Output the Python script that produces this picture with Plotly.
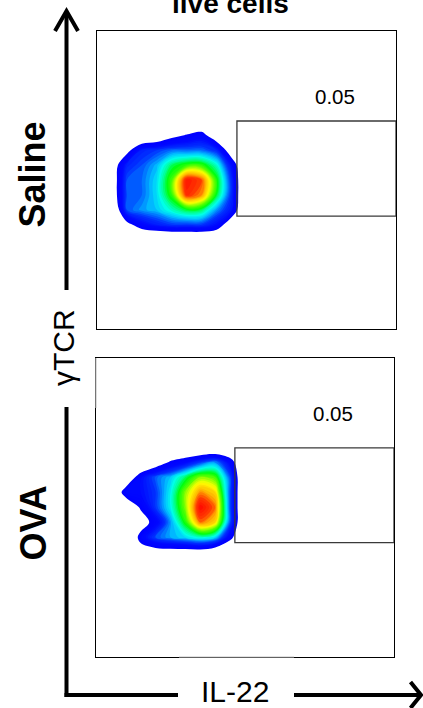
import plotly.graph_objects as go

# ---------------- data ----------------
panel_names = ["Saline", "OVA"]
gate_pct = ["0.05", "0.05"]
# gate rectangles in panel units (0-100 on both axes): x0, x1, y0, y1
gate_saline = [46.8, 100, 37.9, 69.8]
gate_ova = [46.6, 100, 38.2, 69.8]
label_pos_saline = [79.6, 78.0]
label_pos_ova = [79.5, 81.3]

grid_x = [0, 5, 10, 15, 20, 25, 30, 35, 40, 45, 50]
grid_y_top_down = [75, 70, 65, 60, 55, 50, 45, 40, 35, 30, 25]

# relative cell density (rows top -> bottom)
density_saline = [
    [0, 0, 0, 0, 0, 0, 0, 0, 0, 0, 0],
    [0, 0, 0, 0, 0, 0, 0, 0, 0, 0, 0],
    [0, 0, 0, 0, 0.05, 0.15, 0.21, 0.26, 0.08, 0, 0],
    [0, 0, 0.15, 0.35, 0.38, 0.42, 0.42, 0.42, 0.36, 0.1, 0],
    [0, 0.1, 0.35, 0.4, 0.47, 0.6, 0.66, 0.66, 0.55, 0.3, 0],
    [0, 0.1, 0.4, 0.42, 0.5, 0.68, 0.98, 0.92, 0.65, 0.36, 0],
    [0, 0.1, 0.4, 0.42, 0.5, 0.66, 0.95, 0.88, 0.62, 0.36, 0],
    [0, 0.02, 0.4, 0.45, 0.48, 0.55, 0.62, 0.6, 0.45, 0.32, 0],
    [0, 0, 0.15, 0.28, 0.34, 0.38, 0.38, 0.38, 0.3, 0.08, 0],
    [0, 0, 0, 0, 0, 0, 0, 0, 0, 0, 0],
    [0, 0, 0, 0, 0, 0, 0, 0, 0, 0, 0],
]
density_ova = [
    [0, 0, 0, 0, 0, 0, 0, 0, 0, 0, 0],
    [0, 0, 0, 0, 0, 0, 0, 0, 0, 0, 0],
    [0, 0, 0, 0, 0.1, 0.22, 0.29, 0.385, 0.45, 0.28, 0],
    [0, 0, 0.05, 0.29, 0.41, 0.48, 0.6, 0.72, 0.68, 0.4, 0],
    [0, 0, 0.28, 0.3, 0.38, 0.52, 0.72, 0.88, 0.82, 0.4, 0],
    [0, 0, 0.05, 0.22, 0.38, 0.52, 0.72, 1.0, 0.9, 0.4, 0],
    [0, 0, 0, 0.12, 0.26, 0.45, 0.65, 0.9, 0.82, 0.4, 0],
    [0, 0, 0, 0.25, 0.4, 0.46, 0.5, 0.55, 0.5, 0.25, 0],
    [0, 0, 0, 0.12, 0.12, 0.12, 0.12, 0.12, 0.06, 0, 0],
    [0, 0, 0, 0, 0, 0, 0, 0, 0, 0, 0],
    [0, 0, 0, 0, 0, 0, 0, 0, 0, 0, 0],
]

title_text = "live cells"
x_label = "IL-22"
y_label = "γTCR"

# ---------------- figure ----------------
W, H = 423, 708


def px(x):
    return x / W


def py(y):
    return 1 - y / H


C_START, C_END, C_SIZE = 0.2, 1.0, 0.02
# plotly maps the colorscale onto [start - size/2, end + size/2] for filled contours
lo, hi = C_START - C_SIZE / 2, C_END + C_SIZE / 2


def f(v):
    return max(0.0, min(1.0, (v - lo) / (hi - lo)))


color_stops = [(0.2, "#0000ff"), (0.3, "#0008ff"), (0.38, "#0030ff"), (0.43, "#0078ff"),
               (0.48, "#00c8ff"), (0.53, "#00ffe8"), (0.58, "#00ff90"), (0.63, "#00ff10"),
               (0.7, "#60ff00"), (0.78, "#ffff00"), (0.86, "#ffb000"), (0.93, "#ff3800"),
               (1.01, "#ff0000")]
jet = [[0.0, "#ffffff"], [f(0.2) - 0.001, "#ffffff"]] + [[f(v), c] for v, c in color_stops]

grid_y = list(reversed(grid_y_top_down))
fig = go.Figure()
for dens, xa, ya in [(density_saline, "x", "y"), (density_ova, "x2", "y2")]:
    fig.add_trace(go.Contour(
        x=grid_x, y=grid_y, z=list(reversed(dens)),
        xaxis=xa, yaxis=ya,
        colorscale=jet,
        contours=dict(start=C_START, end=C_END, size=C_SIZE, coloring="fill", showlines=False),
        line=dict(width=0, smoothing=1.0),
        showscale=False, hoverinfo="skip",
    ))

axis_common = dict(range=[0, 100], showgrid=False, zeroline=False, showticklabels=False,
                   ticks="", showline=True, linecolor="black", linewidth=1, mirror=True,
                   fixedrange=True)
fig.update_layout(
    width=W, height=H, margin=dict(l=0, r=0, t=0, b=0),
    paper_bgcolor="white", plot_bgcolor="white", showlegend=False,
    xaxis=dict(domain=[px(97), px(396)], anchor="y", **axis_common),
    yaxis=dict(domain=[py(329), py(31)], anchor="x", **axis_common),
    xaxis2=dict(domain=[px(96), px(394)], anchor="y2", **axis_common),
    yaxis2=dict(domain=[py(657), py(357.5)], anchor="x2", **axis_common),
    font=dict(family="Liberation Sans", color="black"),
)

shapes = []
for g, xr, yr in [(gate_saline, "x", "y"), (gate_ova, "x2", "y2")]:
    shapes.append(dict(type="rect", xref=xr, yref=yr, x0=g[0], x1=g[1], y0=g[2], y1=g[3],
                       line=dict(color="#3a3a3a", width=1.3), fillcolor="rgba(0,0,0,0)"))

# light segments where label backgrounds overlap the panel frame
faint = dict(color="#c4c4c4", width=1.2)
shapes.append(dict(type="line", xref="paper", yref="paper", x0=px(179), x1=px(294),
                   y0=py(657), y1=py(657), line=faint))
shapes.append(dict(type="line", xref="paper", yref="paper", x0=px(96), x1=px(96),
                   y0=py(358), y1=py(408), line=faint))

arrow = dict(color="black", width=4)
# vertical axis arrow (gap for the yTCR label)
shapes.append(dict(type="line", xref="paper", yref="paper", x0=px(66.5), x1=px(66.5),
                   y0=py(12), y1=py(290), line=arrow))
shapes.append(dict(type="line", xref="paper", yref="paper", x0=px(66.5), x1=px(66.5),
                   y0=py(407), y1=py(697), line=arrow))
# horizontal axis arrow (gap for the IL-22 label)
shapes.append(dict(type="line", xref="paper", yref="paper", x0=px(64.5), x1=px(178),
                   y0=py(695), y1=py(695), line=arrow))
shapes.append(dict(type="line", xref="paper", yref="paper", x0=px(294), x1=px(420),
                   y0=py(695), y1=py(695), line=arrow))
# arrow heads
shapes.append(dict(type="path", xref="paper", yref="paper",
                   path=f"M {px(55)},{py(31)} L {px(66.5)},{py(11)} L {px(78)},{py(31)}",
                   line=arrow))
shapes.append(dict(type="path", xref="paper", yref="paper",
                   path=f"M {px(410.5)},{py(682)} L {px(421)},{py(695)} L {px(410.5)},{py(708)}",
                   line=arrow))

ctr = dict(showarrow=False, xanchor="center", yanchor="middle")
annotations = []
for pos, pct, xr, yr in [(label_pos_saline, gate_pct[0], "x", "y"), (label_pos_ova, gate_pct[1], "x2", "y2")]:
    annotations.append(dict(x=pos[0], y=pos[1], xref=xr, yref=yr, text=pct,
                            font=dict(size=20.5, family="Liberation Sans", color="black"), **ctr))
annotations.append(dict(x=px(230), y=py(21), xref="paper", yref="paper", text=f"<b>{title_text}</b>",
                        showarrow=False, xanchor="center", yanchor="bottom",
                        font=dict(size=28, family="Liberation Sans", color="black")))
annotations.append(dict(x=px(32.5), y=py(175), xref="paper", yref="paper", text=f"<b>{panel_names[0]}</b>",
                        textangle=-90, font=dict(size=36, family="Liberation Sans", color="black"), **ctr))
annotations.append(dict(x=px(32.5), y=py(523), xref="paper", yref="paper", text=f"<b>{panel_names[1]}</b>",
                        textangle=-90, font=dict(size=36, family="Liberation Sans", color="black"), **ctr))
annotations.append(dict(x=px(63), y=py(348), xref="paper", yref="paper", text=y_label,
                        textangle=-90, font=dict(size=30, family="Liberation Sans", color="black"), **ctr))
annotations.append(dict(x=px(235), y=py(691), xref="paper", yref="paper", text=x_label,
                        font=dict(size=30, family="Liberation Sans", color="black"), **ctr))

fig.update_layout(shapes=shapes, annotations=annotations)
fig.write_html("out.html", config={"displayModeBar": False},
               post_script="document.body.style.margin='0px';")
